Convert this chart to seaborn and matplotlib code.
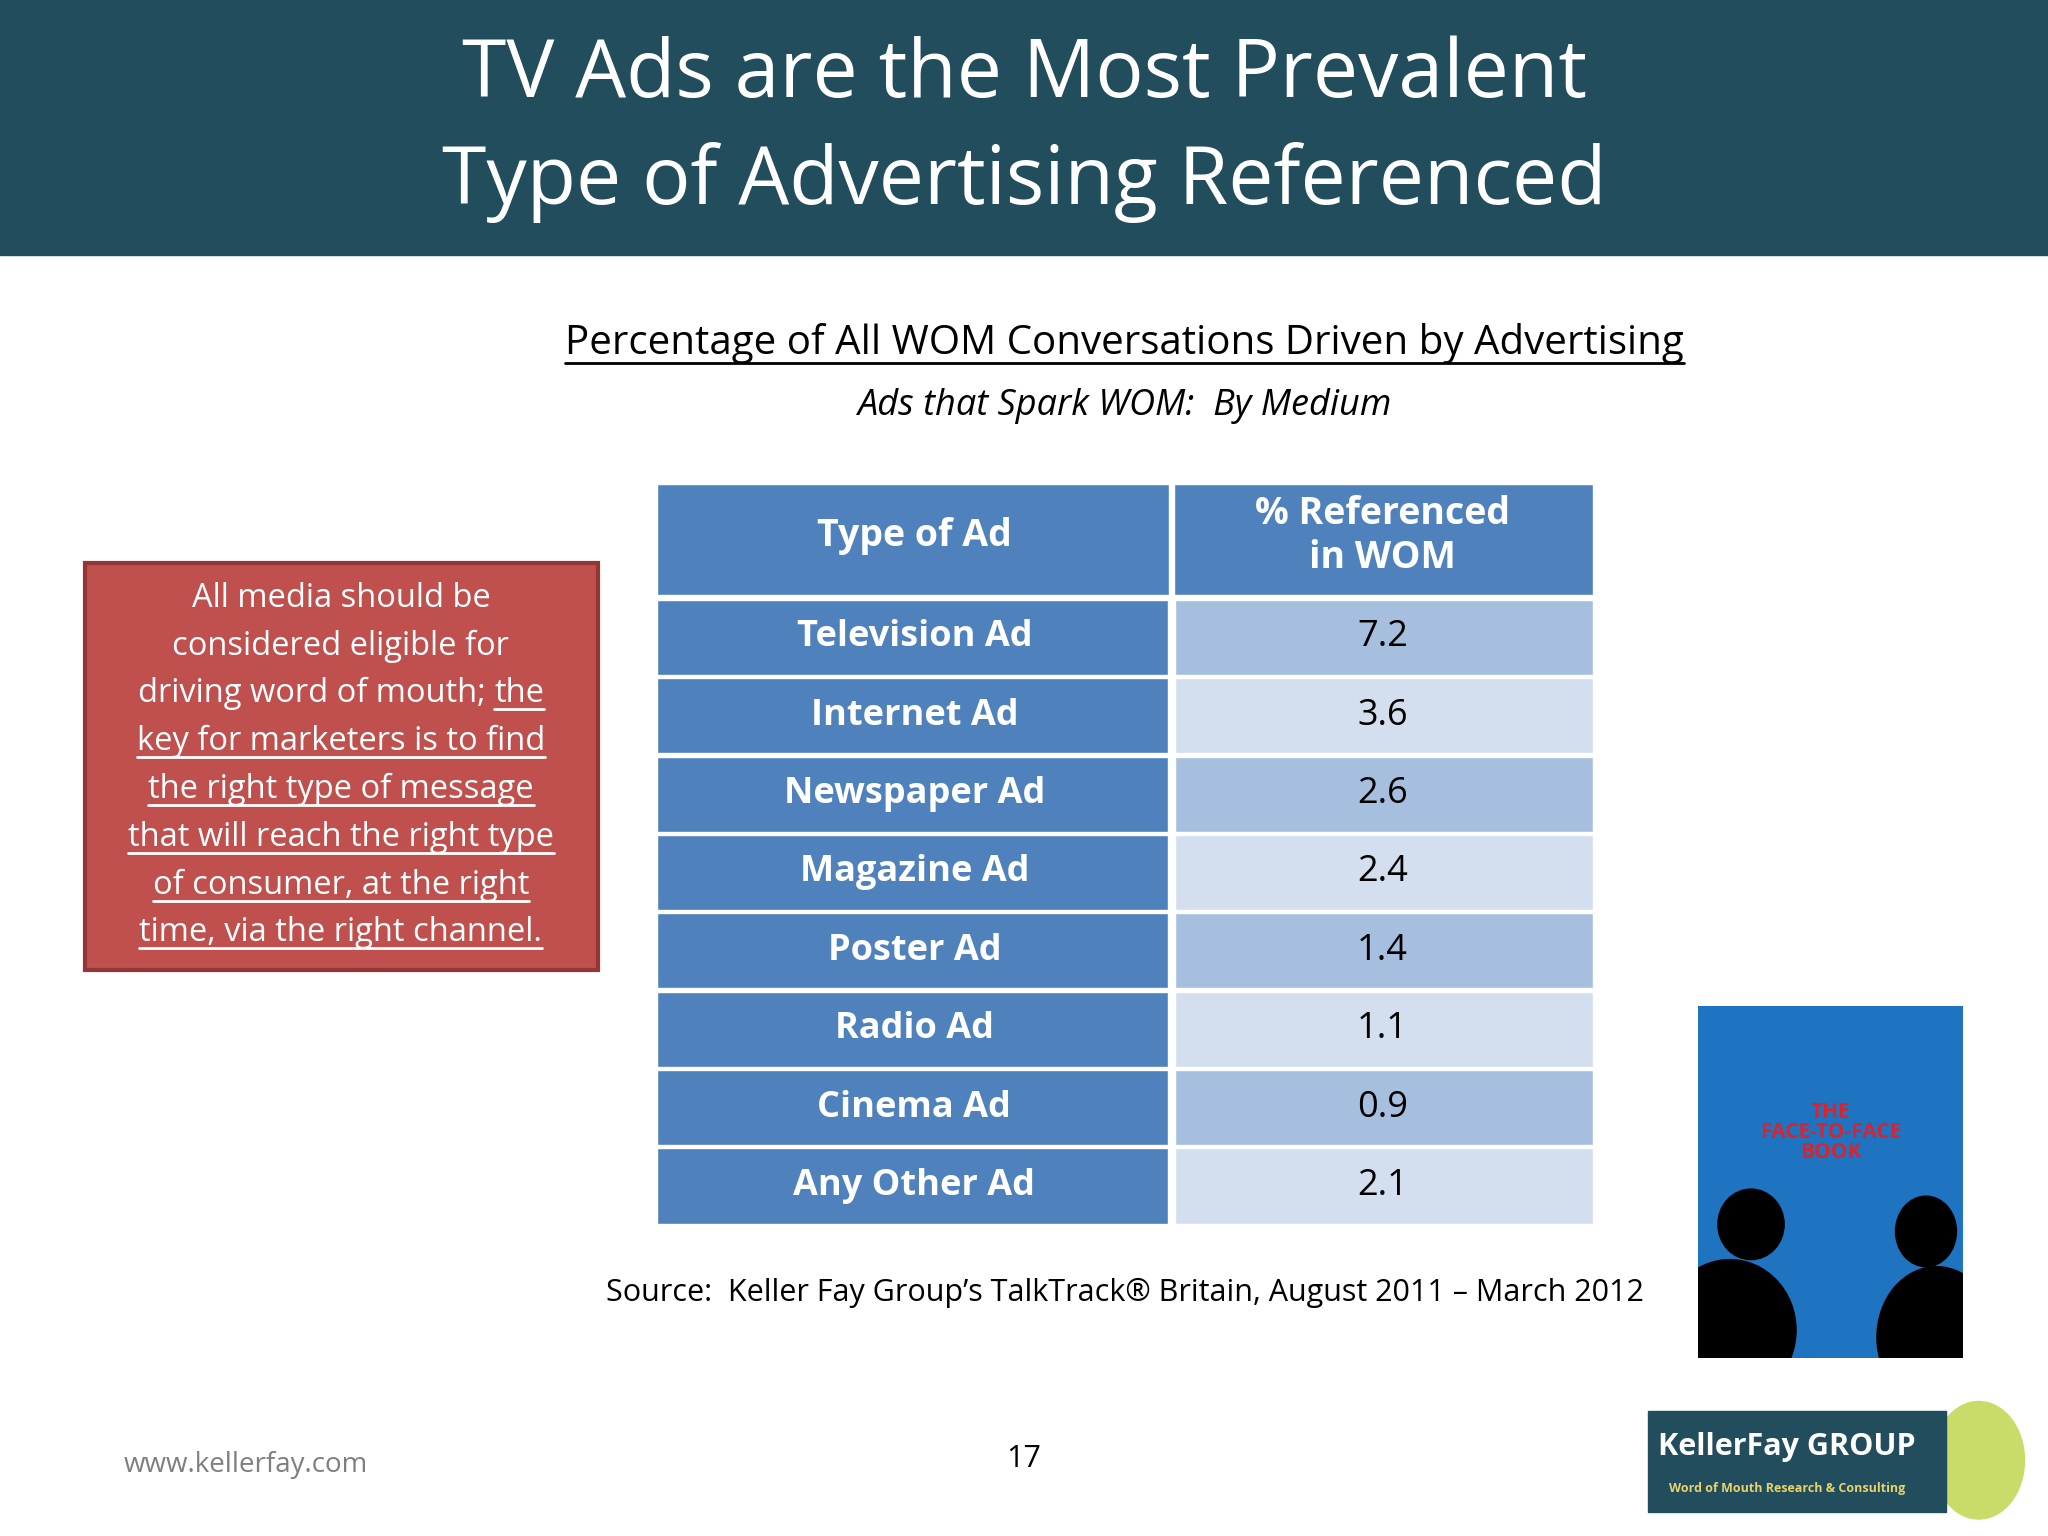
import matplotlib
matplotlib.use("Agg")
import matplotlib.pyplot as plt
import matplotlib.patches as mpatches
import seaborn as sns

# Data
ad_types = ["Television Ad", "Internet Ad", "Newspaper Ad", "Magazine Ad",
            "Poster Ad", "Radio Ad", "Cinema Ad", "Any Other Ad"]
pct_referenced = [7.2, 3.6, 2.6, 2.4, 1.4, 1.1, 0.9, 2.1]
col_headers = ["Type of Ad", "% Referenced\nin WOM"]

sns.set_theme(style="white")
plt.rcParams["font.family"] = ["Open Sans", "DejaVu Sans"]

W, H = 1568, 1176
def fx(x): return x / W
def fy(y): return 1 - y / H

fig = plt.figure(figsize=(20.48, 15.36), dpi=100)
fig.patch.set_facecolor("white")

# header band
fig.patches.append(mpatches.Rectangle((0, fy(195)), 1, 195 / H, transform=fig.transFigure,
                                      color="#224d5c", zorder=0))
fig.text(0.5, fy(58), "TV Ads are the Most Prevalent", ha="center", va="center",
         color="white", fontsize=58)
fig.text(0.5, fy(140), "Type of Advertising Referenced", ha="center", va="center",
         color="white", fontsize=58)

def underline(t, color, lw=2, offset=1):
    fig.canvas.draw()
    bb = t.get_window_extent().transformed(fig.transFigure.inverted())
    y = bb.y0 + offset / 1536
    fig.add_artist(plt.Line2D([bb.x0, bb.x1], [y, y], transform=fig.transFigure,
                              color=color, lw=lw))

t = fig.text(fx(861), fy(263), "Percentage of All WOM Conversations Driven by Advertising",
             ha="center", va="center", fontsize=29, color="black")
underline(t, "black")
fig.text(fx(861), fy(311), "Ads that Spark WOM:  By Medium", ha="center", va="center",
         fontsize=26, style="italic", color="black")

# table
ax = fig.add_axes([fx(503), fy(938), fx(1220) - fx(503), (938 - 368) / H])
split = 394 / 717
hdr = 1.5
ax.barh([hdr / 2], [split - 0.003], left=0, height=hdr - 0.08, color="#4f81bd")
ax.barh([hdr / 2], [1 - split - 0.003], left=split + 0.003, height=hdr - 0.08, color="#4f81bd")
ax.text(split / 2, hdr / 2 - 0.04, col_headers[0], ha="center", va="center",
        color="white", fontsize=27, fontweight="bold")
ax.text((split + 1) / 2, hdr / 2 - 0.04, col_headers[1], ha="center", va="center",
        color="white", fontsize=27, fontweight="bold", linespacing=1.2)
rows = [hdr + 0.5 + i for i in range(len(ad_types))]
right_colors = ["#a7bfde" if i % 2 == 0 else "#d3dfee" for i in range(len(ad_types))]
ax.barh(rows, [split - 0.004] * len(rows), left=0, height=0.96, color="#4f81bd")
ax.barh(rows, [1 - split - 0.004] * len(rows), left=split + 0.004, height=0.96, color=right_colors)
for r, name, v in zip(rows, ad_types, pct_referenced):
    ax.text(split / 2, r, name, ha="center", va="center", color="white",
            fontsize=26, fontweight="bold")
    ax.text((split + 1) / 2, r, f"{v:.1f}", ha="center", va="center", color="black", fontsize=26)
ax.set_xlim(0, 1)
ax.set_ylim(hdr + len(ad_types), 0)
ax.axis("off")

# red callout box
fig.patches.append(mpatches.Rectangle((fx(65), fy(743)), fx(458) - fx(65), (743 - 431) / H,
                                      transform=fig.transFigure, facecolor="#c0504d",
                                      edgecolor="#943634", lw=3, zorder=1))
box_lines = ["All media should be", "considered eligible for", "driving word of mouth; the",
             "key for marketers is to find", "the right type of message",
             "that will reach the right type", "of consumer, at the right",
             "time, via the right channel."]
cx = fx(261)
fs_box = 23.5
for i, line in enumerate(box_lines):
    y = fy(458 + i * 36.6)
    if i < 2:
        fig.text(cx, y, line, ha="center", va="center", color="white", fontsize=fs_box, zorder=2)
    elif i == 2:
        full = fig.text(cx, y, line, ha="center", va="center", color="white", fontsize=fs_box,
                        alpha=0, zorder=2)
        fig.canvas.draw()
        bb = full.get_window_extent().transformed(fig.transFigure.inverted())
        fig.text(bb.x0, y, "driving word of mouth; ", ha="left", va="center", color="white",
                 fontsize=fs_box, zorder=2)
        tt = fig.text(bb.x1, y, "the", ha="right", va="center", color="white",
                      fontsize=fs_box, zorder=2)
        underline(tt, "white")
    else:
        tt = fig.text(cx, y, line, ha="center", va="center", color="white", fontsize=fs_box, zorder=2)
        underline(tt, "white")

fig.text(fx(861), fy(990), "Source:  Keller Fay Group\u2019s TalkTrack\u00ae Britain, August 2011 \u2013 March 2012",
         ha="center", va="center", fontsize=22, color="black")
fig.text(fx(95), fy(1122), "www.kellerfay.com", ha="left", va="center", fontsize=20, color="#7f7f7f")
fig.text(fx(784), fy(1117), "17", ha="center", va="center", fontsize=22, color="black")

# book cover
book_ax = fig.add_axes([fx(1300), fy(1040), fx(1503) - fx(1300), 270 / H])
book_ax.set_xlim(0, 1)
book_ax.set_ylim(0, 1)
book_ax.set_facecolor("#1f74c2")
book_ax.set_xticks([])
book_ax.set_yticks([])
for s in book_ax.spines.values():
    s.set_visible(False)
book_ax.text(0.5, 0.64, "THE\nFACE-TO-FACE\nBOOK", ha="center", va="center",
             fontsize=15, color="#d9232e", fontweight="bold", linespacing=0.95)
book_ax.add_patch(mpatches.Ellipse((0.12, 0.08), 0.5, 0.4, color="black"))
book_ax.add_patch(mpatches.Ellipse((0.2, 0.38), 0.25, 0.2, color="black"))
book_ax.add_patch(mpatches.Ellipse((0.9, 0.06), 0.45, 0.4, color="black"))
book_ax.add_patch(mpatches.Ellipse((0.86, 0.36), 0.23, 0.2, color="black"))

# logo
fig.patches.append(mpatches.Ellipse((fx(1515), fy(1118)), 70 / W, 90 / H,
                                    transform=fig.transFigure, color="#c9dc6a", zorder=1))
fig.patches.append(mpatches.Rectangle((fx(1262), fy(1158)), fx(1490) - fx(1262), 78 / H,
                                      transform=fig.transFigure, color="#224d5c", zorder=2))
fig.text(fx(1368), fy(1108), "KellerFay GROUP", ha="center", va="center", fontsize=22,
         color="white", fontweight="bold", zorder=3)
fig.text(fx(1368), fy(1140), "Word of Mouth Research & Consulting", ha="center", va="center",
         fontsize=9, color="#e8d36a", fontweight="bold", zorder=3)

fig.savefig("out.png", dpi=100, facecolor="white")
